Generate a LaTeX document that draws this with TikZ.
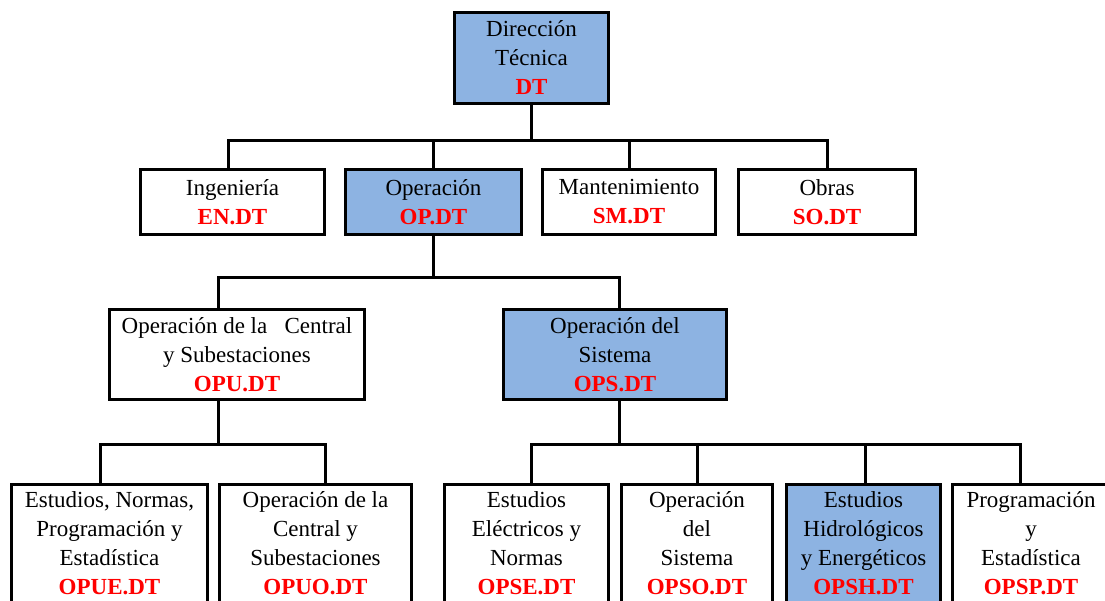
\documentclass[tikz,border=0pt]{standalone}
\usepackage{fontspec}
\setmainfont{Liberation Serif}
\usetikzlibrary{positioning}
\definecolor{UnitBlue}{HTML}{8DB3E2}
\definecolor{CodeRed}{HTML}{FF0000}
\newcommand{\code}[1]{\textcolor{CodeRed}{\textbf{#1}}}

\begin{document}
\begin{tikzpicture}[
  x=1pt,y=1pt,
  node distance=18pt,
  unit/.style={draw,line width=3pt,align=center,inner sep=2pt,fill=white,font=\fontsize{23}{29}\selectfont},
  key/.style={unit,fill=UnitBlue},
  top/.style={minimum height=65pt},
  mid/.style={minimum height=90pt},
  low/.style={minimum height=118pt},
  link/.style={line width=3pt}
]
\useasboundingbox (0,0) rectangle (1105,-600);
% head
\node[key,minimum width=154pt,minimum height=91pt] (dt) at (531.5,-58) {Dirección\\Técnica\\\code{DT}};
% second level
\node[unit,top,minimum width=184pt] (ing) at (232.5,-202) {Ingeniería\\\code{EN.DT}};
\node[key,top,minimum width=176pt,right=of ing] (op) {Operación\\\code{OP.DT}};
\node[unit,top,minimum width=173pt,right=of op] (mant) {Mantenimiento\\\code{SM.DT}};
\node[unit,top,minimum width=177pt,right=20pt of mant] (obras) {Obras\\\code{SO.DT}};
% third level
\node[unit,mid,minimum width=255pt] (opu) at (237,-354.5) {Operación de la\ \ \ Central\\y Subestaciones\\\code{OPU.DT}};
\node[key,mid,minimum width=223pt,right=136pt of opu] (ops) {Operación del\\Sistema\\\code{OPS.DT}};
% fourth level
\node[unit,low,minimum width=196pt] (opue) at (109.5,-543.5) {Estudios, Normas,\\Programación y\\Estadística\\\code{OPUE.DT}};
\node[unit,low,minimum width=192pt,right=9pt of opue] (opuo) {Operación de la\\Central y\\Subestaciones\\\code{OPUO.DT}};
\node[unit,low,minimum width=164pt,right=30pt of opuo] (opse) {Estudios\\Eléctricos y\\Normas\\\code{OPSE.DT}};
\node[unit,low,minimum width=151pt,right=10pt of opse] (opso) {Operación\\del\\Sistema\\\code{OPSO.DT}};
\node[key,low,minimum width=154pt,right=11pt of opso] (opsh) {Estudios\\Hidrológicos\\y Energéticos\\\code{OPSH.DT}};
\node[unit,low,minimum width=157pt,right=9pt of opsh] (opsp) {Programación\\y\\Estadística\\\code{OPSP.DT}};

% connectors
\draw[link] (dt.south) -- ++(0,-35) coordinate (bar1);
\draw[link] ([xshift=-4.5pt]ing.north) |- (obras.north |- bar1) -- (obras.north);
\foreach \n in {op,mant}
  \draw[link] (\n.north) -- (\n.north |- bar1);

\draw[link] (op.south) -- ++(0,-41) coordinate (bar2);
\draw[link] ([xshift=-19pt]opu.north) |- ([xshift=4pt]ops.north |- bar2) -- ([xshift=4pt]ops.north);

\draw[link] ([xshift=-19pt]opu.south) -- ++(0,-43) coordinate (bar3a);
\draw[link] ([xshift=-9.5pt]opue.north) |- ([xshift=10pt]opuo.north |- bar3a) -- ([xshift=10pt]opuo.north);

\draw[link] ([xshift=4pt]ops.south) -- ++(0,-43) coordinate (bar3b);
\draw[link] ([xshift=4.5pt]opse.north) |- ([xshift=-11pt]opsp.north |- bar3b) -- ([xshift=-11pt]opsp.north);
\draw[link] (opso.north) -- (opso.north |- bar3b);
\draw[link] ([xshift=1.5pt]opsh.north) -- ([xshift=1.5pt]opsh.north |- bar3b);
\end{tikzpicture}
\end{document}
